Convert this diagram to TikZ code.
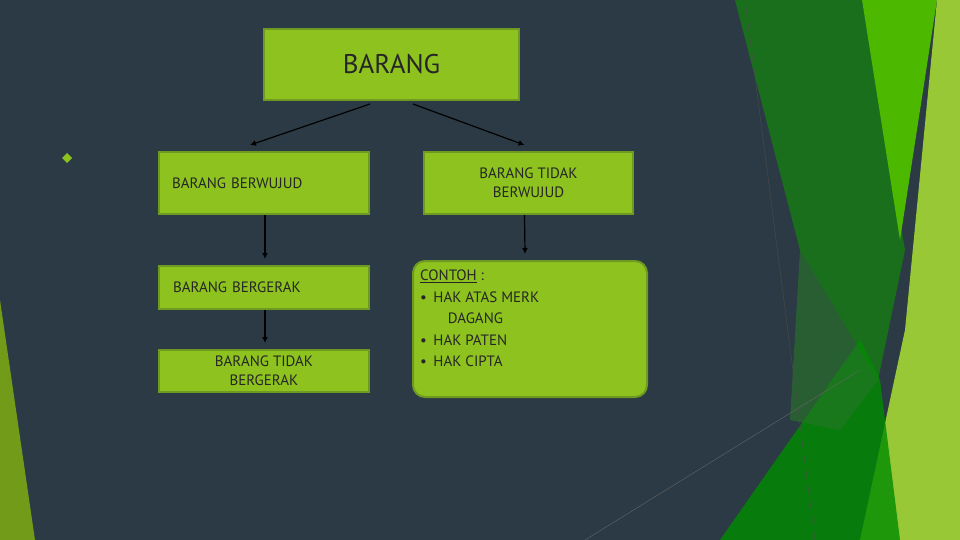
\documentclass[tikz,border=0pt]{standalone}
\usepackage{fontspec}
\setmainfont{PT Sans}
\usetikzlibrary{arrows.meta,calc}
\definecolor{bg}{HTML}{2B3A44}
\definecolor{boxfill}{HTML}{8DC21F}
\definecolor{boxline}{HTML}{6E9A22}
\tikzset{
  box/.style={draw=boxline,fill=boxfill,line width=2pt,inner sep=0pt,font=\fontsize{15}{19}\selectfont,text=black!85},
  link/.style={-{Latex[length=6pt,width=6pt]},line width=1.2pt,black}
}
\begin{document}
\begin{tikzpicture}[x=1pt,y=-1pt]
  \fill[bg] (0,0) rectangle (960,540);
  \useasboundingbox (0,0) rectangle (960,540);
  % right side decoration
  \fill[green!40!black!90!white,opacity=.9] (735,0) -- (862,0) -- (905,250) -- (878,380) -- (800,250) -- cycle;
  \fill[green!60!black!70!yellow] (862,0) -- (937,0) -- (900,240) -- cycle;
  \fill[boxfill!90!white] (937,0) -- (960,0) -- (960,540) -- (860,540) -- (905,330) -- cycle;
  \fill[green!55!black,opacity=.8] (720,540) -- (860,340) -- (880,380) -- (900,540) -- cycle;
  \fill[green!45!black!70!gray,opacity=.6] (800,250) -- (878,380) -- (840,430) -- (790,420) -- cycle;
  \draw[black!70,line width=.4pt] (745,0) -- (815,540);
  \draw[black!60,line width=.4pt] (585,540) -- (860,370);
  % left edge strip
  \fill[boxfill!80!black] (0,300) -- (35,540) -- (0,540) -- cycle;
  \fill[boxfill] (67,153) -- (72,158) -- (67,163) -- (62,158) -- cycle;
  % boxes
  \node[box,minimum width=255,minimum height=71,font=\fontsize{27}{30}\selectfont] (barang) at (391.5,64.5) {BARANG};
  \node[box,minimum width=210,minimum height=62,text width=184,align=left] (wujud) at (264,183) {BARANG BERWUJUD};
  \node[box,minimum width=209,minimum height=62,align=center] (tdkwujud) at (528.5,183) {BARANG TIDAK\\BERWUJUD};
  \node[box,minimum width=210,minimum height=43,text width=182,align=left] (gerak) at (264,287.5) {BARANG BERGERAK};
  \node[box,minimum width=210,minimum height=42,align=center] (tdkgerak) at (264,371) {BARANG TIDAK\\BERGERAK};
  \node[box,rounded corners=12pt,minimum width=234,minimum height=136,anchor=north west] (contoh) at (412,260) {};
  \node[font=\fontsize{15}{21.5}\selectfont,text=black!85,anchor=north west,align=left,inner sep=0pt] (contohtxt) at (420,270)
    {\underline{CONTOH} :\\
     • \,HAK ATAS MERK\\
     \hspace*{1.85em}DAGANG\\
     • \,HAK PATEN\\
     • \,HAK CIPTA};
  % connectors
  \coordinate (a1) at (370,104);
  \coordinate (a2) at (413,104);
  \draw[link] (a1) -- ($(wujud.north)+(-14,-6)$);
  \draw[link] (a2) -- ($(tdkwujud.north)+(-4,-6)$);
  \draw[link] ($(wujud.south)+(1,0)$) -- ($(gerak.north)+(1,-6)$);
  \draw[link] ($(gerak.south)+(1,0)$) -- ($(tdkgerak.north)+(1,-6)$);
  \draw[link] ($(tdkwujud.south)+(-4,0)$) -- ($(contoh.north)+(-5,-6)$);
\end{tikzpicture}
\end{document}
